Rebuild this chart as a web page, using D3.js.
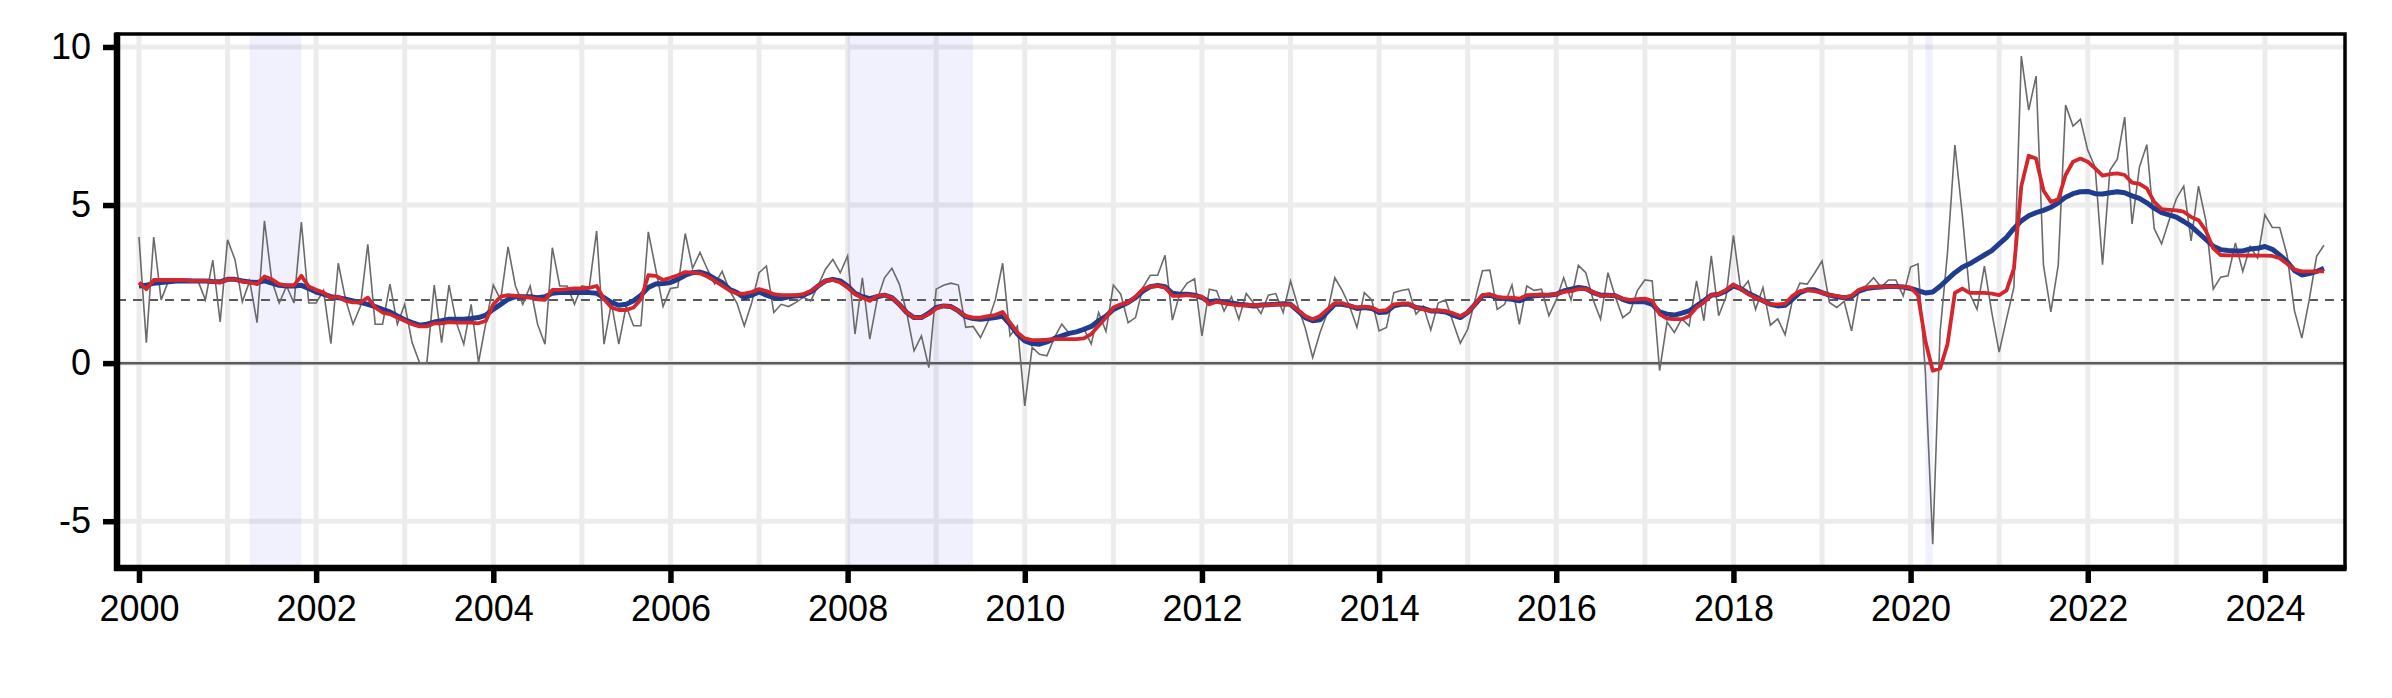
<!DOCTYPE html>
<html><head><meta charset="utf-8">
<script src="https://cdn.jsdelivr.net/npm/d3@7"></script>
<style>body{margin:0;background:#fff}svg{display:block}</style>
</head><body><svg id="c" width="2392" height="698"></svg>
<script>
// ---- data (monthly, starting Jan 2000) ----
const startYear = 2000;
const monthlyRate = [
 3.99,0.65,3.99,2.0,2.6,2.65,2.65,2.65,2.6,2.0,3.26,1.3,
 3.9,3.28,1.94,2.6,1.28,4.5,2.6,1.9,2.44,1.9,4.46,1.9,
 1.9,2.3,0.62,3.16,2.0,1.23,1.8,3.76,1.23,1.23,2.5,1.23,
 1.86,0.65,0.02,0.0,2.47,0.65,2.47,1.28,0.6,1.86,0.02,1.28,
 2.47,2.0,3.68,2.44,1.86,2.44,1.23,0.6,3.65,2.44,2.44,1.86,
 2.44,2.4,4.18,0.6,1.9,0.6,1.8,1.18,1.18,4.15,2.97,1.79,
 2.36,2.4,4.1,3.0,3.5,2.97,2.5,2.9,2.3,1.9,1.18,1.9,
 2.86,3.07,1.6,1.86,1.79,1.92,2.08,1.97,2.45,2.97,3.28,2.86,
 3.39,0.92,2.7,0.76,2.0,2.7,3.0,2.5,1.6,0.39,0.86,-0.14,
 2.34,2.46,2.53,2.47,1.13,1.16,0.81,1.3,2.0,3.16,0.86,1.18,
 -1.35,0.5,0.28,0.23,0.8,1.23,0.95,1.0,1.1,0.6,1.6,1.0,
 2.47,2.18,1.28,1.44,2.39,2.78,2.78,3.41,1.36,2.2,2.53,2.67,
 0.86,2.34,2.28,1.65,2.1,1.39,2.2,1.9,1.57,2.15,2.2,1.6,
 2.6,1.8,1.1,0.18,0.97,1.6,2.7,2.3,1.8,1.13,2.23,2.0,
 1.02,1.13,2.23,2.3,2.34,1.55,1.8,1.05,1.9,2.0,1.3,0.63,
 1.07,2.0,2.92,2.94,1.7,1.86,2.47,1.23,2.44,2.3,2.34,1.5,
 2.0,2.7,2.0,3.09,2.86,2.0,1.39,2.86,2.1,1.44,1.62,2.3,
 2.63,2.6,-0.24,1.3,0.97,1.4,1.18,2.6,1.34,3.39,1.5,2.1,
 4.04,2.3,2.6,1.7,2.39,1.2,1.4,0.9,2.0,2.53,2.5,2.85,
 3.23,1.92,1.76,1.95,1.02,2.34,2.45,2.7,2.4,2.63,2.63,2.13,
 3.04,3.14,-0.3,-5.73,1.0,3.5,6.9,4.7,2.2,1.7,3.07,1.6,
 0.35,1.4,2.4,9.71,8.0,9.08,3.1,1.62,3.1,8.16,7.5,7.71,
 6.73,6.2,3.11,6.1,6.45,7.78,4.4,6.2,6.91,4.26,3.77,4.5,
 5.2,5.6,3.87,5.6,4.5,2.34,2.72,2.76,3.8,2.9,3.69,3.32,
 4.69,4.29,4.29,3.42,1.66,0.79,2.0,3.38,3.73
];
const shortAvg = [
 2.55,2.34,2.63,2.63,2.63,2.63,2.63,2.6,2.6,2.6,2.58,2.55,
 2.65,2.65,2.58,2.55,2.5,2.74,2.65,2.5,2.46,2.46,2.76,2.42,
 2.32,2.23,2.07,2.1,1.97,1.92,1.92,2.07,1.76,1.6,1.55,1.44,
 1.34,1.23,1.16,1.16,1.26,1.26,1.3,1.28,1.28,1.28,1.26,1.34,
 1.86,2.1,2.15,2.13,2.1,2.07,2.02,2.0,2.32,2.32,2.34,2.36,
 2.36,2.38,2.44,2.02,1.76,1.68,1.68,1.76,2.02,2.78,2.76,2.63,
 2.7,2.78,2.88,2.86,2.84,2.74,2.6,2.45,2.3,2.2,2.2,2.25,
 2.34,2.28,2.18,2.15,2.15,2.15,2.18,2.28,2.44,2.6,2.63,2.55,
 2.39,2.18,2.07,1.97,2.13,2.15,2.07,1.86,1.6,1.44,1.44,1.55,
 1.73,1.81,1.79,1.65,1.49,1.44,1.44,1.49,1.52,1.62,1.28,0.97,
 0.78,0.73,0.73,0.74,0.76,0.76,0.76,0.76,0.78,0.92,1.18,1.44,
 1.76,1.86,1.92,2.1,2.34,2.42,2.44,2.39,2.13,2.13,2.15,2.13,
 2.1,1.86,1.94,1.9,1.86,1.83,1.83,1.83,1.83,1.84,1.86,1.86,
 1.86,1.68,1.49,1.39,1.49,1.7,1.9,1.9,1.81,1.76,1.79,1.76,
 1.65,1.68,1.86,1.88,1.88,1.76,1.7,1.65,1.67,1.65,1.58,1.49,
 1.6,1.86,2.15,2.18,2.09,2.07,2.07,2.04,2.15,2.16,2.17,2.15,
 2.18,2.25,2.28,2.34,2.34,2.25,2.13,2.15,2.13,2.04,2.0,2.02,
 2.04,1.97,1.55,1.41,1.39,1.39,1.49,1.76,1.92,2.15,2.18,2.32,
 2.49,2.34,2.18,2.07,1.97,1.86,1.86,1.88,2.13,2.28,2.31,2.28,
 2.23,2.15,2.13,2.07,2.13,2.32,2.39,2.41,2.41,2.42,2.42,2.41,
 2.39,2.15,0.7,-0.24,-0.17,0.6,2.22,2.36,2.22,2.22,2.22,2.2,
 2.15,2.3,3.0,5.6,6.56,6.47,5.46,5.1,5.18,5.95,6.37,6.47,
 6.37,6.16,5.93,5.98,6.0,5.95,5.71,5.67,5.53,5.1,4.87,4.85,
 4.83,4.79,4.62,4.52,4.19,3.63,3.42,3.41,3.41,3.4,3.41,3.4,
 3.4,3.39,3.32,3.14,2.96,2.9,2.9,2.9,2.9
];
const longAvg = [
 2.44,2.46,2.53,2.55,2.57,2.6,2.6,2.6,2.6,2.6,2.58,2.57,
 2.65,2.65,2.6,2.57,2.55,2.6,2.53,2.46,2.44,2.44,2.46,2.36,
 2.25,2.18,2.1,2.07,2.02,1.97,1.92,1.86,1.79,1.7,1.62,1.49,
 1.37,1.28,1.2,1.23,1.3,1.34,1.39,1.39,1.39,1.41,1.44,1.52,
 1.7,1.86,2.02,2.1,2.1,2.1,2.07,2.1,2.21,2.23,2.23,2.23,
 2.23,2.23,2.21,2.07,1.92,1.83,1.86,1.97,2.15,2.39,2.5,2.52,
 2.55,2.65,2.78,2.86,2.88,2.81,2.67,2.55,2.34,2.23,2.07,2.15,
 2.25,2.15,2.07,2.04,2.1,2.12,2.15,2.25,2.44,2.6,2.65,2.6,
 2.44,2.21,2.1,2.04,2.1,2.15,2.07,1.86,1.6,1.44,1.44,1.58,
 1.76,1.81,1.79,1.65,1.47,1.41,1.39,1.41,1.44,1.49,1.23,0.92,
 0.7,0.62,0.6,0.67,0.78,0.86,0.94,0.99,1.07,1.16,1.34,1.49,
 1.7,1.81,1.92,2.07,2.28,2.42,2.46,2.42,2.21,2.18,2.18,2.15,
 2.07,1.94,1.97,1.92,1.9,1.86,1.84,1.81,1.84,1.85,1.86,1.88,
 1.86,1.65,1.44,1.34,1.37,1.62,1.86,1.86,1.81,1.73,1.76,1.73,
 1.6,1.62,1.81,1.86,1.86,1.76,1.73,1.65,1.65,1.62,1.52,1.44,
 1.6,1.86,2.13,2.15,2.07,2.04,2.02,1.97,2.07,2.13,2.15,2.15,
 2.18,2.28,2.34,2.39,2.36,2.23,2.15,2.15,2.13,2.02,1.94,1.94,
 1.94,1.86,1.62,1.55,1.52,1.58,1.65,1.81,1.97,2.15,2.18,2.28,
 2.44,2.36,2.21,2.1,1.97,1.86,1.81,1.83,2.02,2.23,2.32,2.32,
 2.23,2.15,2.1,2.07,2.1,2.28,2.36,2.39,2.41,2.42,2.42,2.41,
 2.36,2.29,2.22,2.25,2.43,2.65,2.86,3.03,3.14,3.28,3.42,3.56,
 3.77,3.98,4.26,4.5,4.66,4.76,4.83,4.93,5.07,5.25,5.36,5.42,
 5.43,5.36,5.35,5.39,5.42,5.39,5.29,5.21,5.07,4.9,4.76,4.69,
 4.62,4.48,4.33,4.12,3.91,3.7,3.59,3.56,3.55,3.55,3.61,3.63,
 3.69,3.6,3.42,3.21,2.93,2.79,2.83,2.9,3.0
];
const yTicks = [-5, 0, 5, 10];
const xTickYears = [2000,2002,2004,2006,2008,2010,2012,2014,2016,2018,2020,2022,2024];
const gridYears = d3.range(2000, 2025);
// recession bands as [start decimal year, end decimal year] (month starts)
const recessions = [[2001 + 3/12, 2001 + 10/12], [2008 + 0/12, 2009 + 5/12], [2020 + 2/12, 2020 + 3/12]];
const targetLevel = 2;

// ---- layout ----
const W = 2392, H = 698;
const L = 117, R = 2345, T = 34, B = 568;
const svg = d3.select('#c');
svg.append('rect').attr('width', W).attr('height', H).attr('fill', '#fff');

const x = d3.scaleLinear().domain([1999.752, 2024.904]).range([L, R]);
const y = d3.scaleLinear().domain([-6.48, 10.41]).range([B, T]);
const t = i => startYear + i / 12;

const g = svg.append('g');
// gridlines
g.selectAll('.gx').data(gridYears).enter().append('line')
  .attr('x1', d => x(d)).attr('x2', d => x(d)).attr('y1', T).attr('y2', B)
  .attr('stroke', '#ececec').attr('stroke-width', 5);
g.selectAll('.gy').data(yTicks).enter().append('line')
  .attr('x1', L).attr('x2', R).attr('y1', d => y(d)).attr('y2', d => y(d))
  .attr('stroke', '#ececec').attr('stroke-width', 5);
// recessions
g.selectAll('.rec').data(recessions).enter().append('rect')
  .attr('x', d => x(d[0])).attr('width', d => x(d[1]) - x(d[0]))
  .attr('y', T).attr('height', B - T)
  .attr('fill', 'rgb(40,40,230)').attr('fill-opacity', 0.065);
// zero & target lines
g.append('line').attr('x1', L).attr('x2', R).attr('y1', y(0)).attr('y2', y(0))
  .attr('stroke', '#5a5a5a').attr('stroke-width', 2.5);
g.append('line').attr('x1', L).attr('x2', R).attr('y1', y(targetLevel)).attr('y2', y(targetLevel))
  .attr('stroke', '#5a5a5a').attr('stroke-width', 2).attr('stroke-dasharray', '9,7');

const line = d3.line().x((d, i) => x(t(i))).y(d => y(d));
g.append('path').datum(monthlyRate).attr('d', line)
  .attr('fill', 'none').attr('stroke', '#6a6a6a').attr('stroke-width', 1.6).attr('stroke-linejoin', 'miter');
g.append('path').datum(longAvg).attr('d', line)
  .attr('fill', 'none').attr('stroke', '#1f3c8e').attr('stroke-width', 5).attr('stroke-linejoin', 'round');
g.append('path').datum(shortAvg).attr('d', line)
  .attr('fill', 'none').attr('stroke', '#d4262c').attr('stroke-width', 3.8).attr('stroke-linejoin', 'round');

// panel border
svg.append('rect').attr('x', L).attr('y', T).attr('width', R - L).attr('height', B - T)
  .attr('fill', 'none').attr('stroke', '#000').attr('stroke-width', 3.5);
// thick axis lines
svg.append('line').attr('x1', L).attr('x2', L).attr('y1', T - 1.5).attr('y2', B + 3)
  .attr('stroke', '#000').attr('stroke-width', 6.5);
svg.append('line').attr('x1', L - 3).attr('x2', R + 1.5).attr('y1', B).attr('y2', B)
  .attr('stroke', '#000').attr('stroke-width', 6.5);

// axes via d3 axis generators (plain hyphen for negatives, as in the reference)
const fmt = d => String(d);
const yAxis = d3.axisLeft(y).tickValues(yTicks).tickSize(14).tickPadding(12).tickFormat(fmt);
const ya = svg.append('g').attr('transform', `translate(${L},0)`).call(yAxis);
ya.select('.domain').remove();
ya.selectAll('.tick line').attr('stroke', '#000').attr('stroke-width', 5.5);
ya.selectAll('.tick text').attr('font-family', '"Liberation Sans", Arial, Helvetica, sans-serif')
  .attr('font-size', 36).attr('fill', '#000');

const xAxis = d3.axisBottom(x).tickValues(xTickYears).tickSize(15).tickPadding(12).tickFormat(fmt);
const xa = svg.append('g').attr('transform', `translate(0,${B})`).call(xAxis);
xa.select('.domain').remove();
xa.selectAll('.tick line').attr('stroke', '#000').attr('stroke-width', 5.5);
xa.selectAll('.tick text').attr('font-family', '"Liberation Sans", Arial, Helvetica, sans-serif')
  .attr('font-size', 36).attr('fill', '#000');
</script>
</body></html>
